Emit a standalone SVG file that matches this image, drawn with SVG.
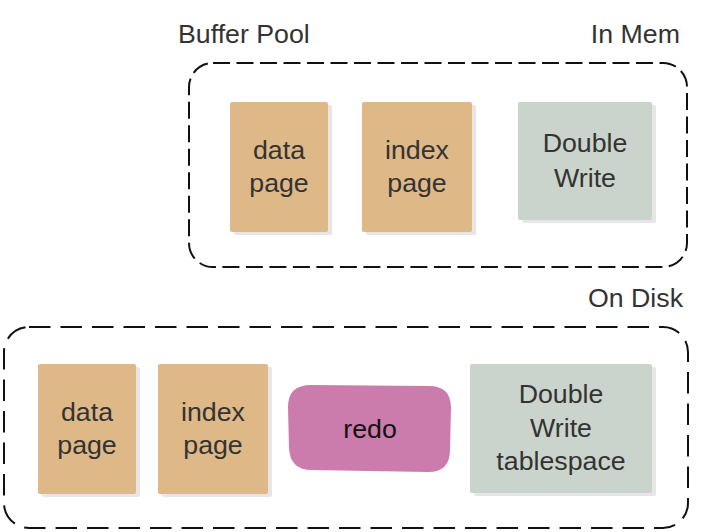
<svg xmlns="http://www.w3.org/2000/svg" width="708" height="532" viewBox="0 0 708 532">
<style>
.t{font-family:"Liberation Sans",Arial,sans-serif;font-size:25px;fill:#333333;text-anchor:middle}
.lbl{font-family:"Liberation Sans",Arial,sans-serif;font-size:25px;fill:#333333}
.page{fill:#deb887}
.dw{fill:#cad4cc}
.sh{fill:#e6e6e6}
.redo{fill:#cc7bad}
.grp{fill:none;stroke:#111111;stroke-width:2}
</style>
<rect width="708" height="532" fill="#ffffff"/>
<g id="in-mem">
<rect class="grp" x="189" y="63" width="498" height="204" rx="24" stroke-dasharray="17 6.5"/>
<text class="lbl" text-anchor="start" transform="translate(178,43) scale(1.07,1)">Buffer Pool</text>
<text class="lbl" text-anchor="end" transform="translate(680,43) scale(1.07,1)">In Mem</text>
</g>
<g id="on-disk">
<rect class="grp" x="4" y="327" width="684" height="201" rx="25" stroke-dasharray="21.5 10"/>
<text class="lbl" text-anchor="end" transform="translate(683,307) scale(1.07,1)">On Disk</text>
</g>
<g id="mem-data-page">
<rect class="sh" x="234" y="105" width="98" height="130" rx="2"/>
<rect class="page" x="230" y="102" width="98" height="130" rx="2"/>
<text class="t" transform="translate(279,159) scale(1.07,1)"><tspan x="0" y="0">data</tspan><tspan x="0" y="33">page</tspan></text>
</g>
<g id="mem-index-page">
<rect class="sh" x="366" y="105" width="110" height="130" rx="2"/>
<rect class="page" x="362" y="102" width="110" height="130" rx="2"/>
<text class="t" transform="translate(417,159) scale(1.07,1)"><tspan x="0" y="0">index</tspan><tspan x="0" y="33">page</tspan></text>
</g>
<g id="mem-double-write">
<rect class="sh" x="522" y="105" width="134" height="118" rx="2"/>
<rect class="dw" x="518" y="102" width="134" height="118" rx="2"/>
<text class="t" transform="translate(585,152) scale(1.07,1)"><tspan x="0" y="0">Double</tspan><tspan x="0" y="35">Write</tspan></text>
</g>
<g id="disk-data-page">
<rect class="sh" x="42" y="367" width="98" height="130" rx="2"/>
<rect class="page" x="38" y="364" width="98" height="130" rx="2"/>
<text class="t" transform="translate(87,421) scale(1.07,1)"><tspan x="0" y="0">data</tspan><tspan x="0" y="33">page</tspan></text>
</g>
<g id="disk-index-page">
<rect class="sh" x="162" y="367" width="110" height="130" rx="2"/>
<rect class="page" x="158" y="364" width="110" height="130" rx="2"/>
<text class="t" transform="translate(213,421) scale(1.07,1)"><tspan x="0" y="0">index</tspan><tspan x="0" y="33">page</tspan></text>
</g>
<g id="redo">
<path class="redo" d="M311,385 L429,386 Q451,386 451,408 L450,450 Q450,472 428,472 L312,470 Q290,470 289,448 L288,407 Q288,385 311,385 Z"/>
<text class="t" style="fill:#111111" transform="translate(370,438) scale(1.07,1)">redo</text>
</g>
<g id="disk-double-write">
<rect class="sh" x="474" y="367" width="182" height="129" rx="2"/>
<rect class="dw" x="470" y="364" width="182" height="129" rx="2"/>
<text class="t" transform="translate(561,403) scale(1.07,1)"><tspan x="0" y="0">Double</tspan><tspan x="0" y="34">Write</tspan><tspan x="0" y="67">tablespace</tspan></text>
</g>
<g id="connectors"></g>
</svg>
